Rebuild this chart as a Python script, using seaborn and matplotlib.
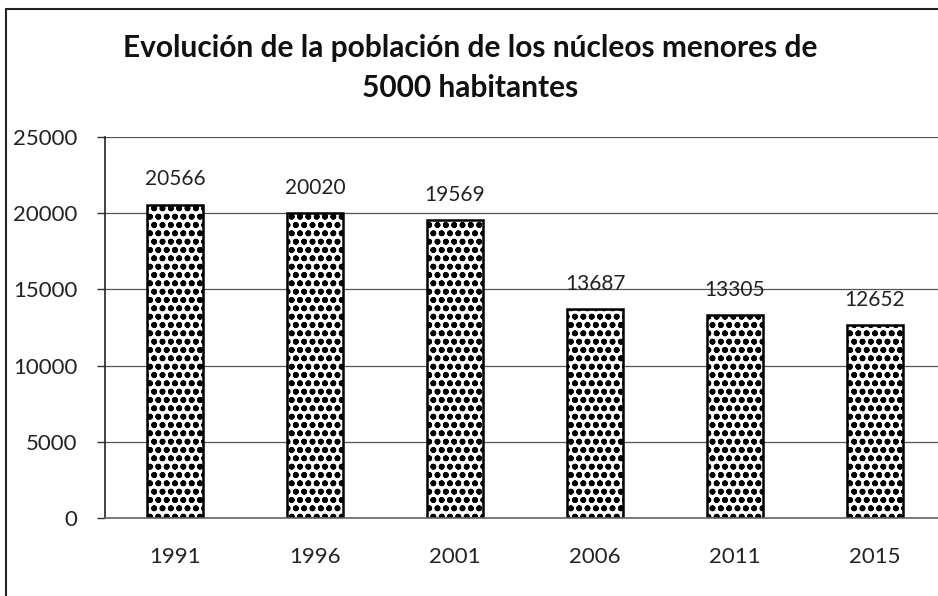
import matplotlib
matplotlib.use("Agg")
import matplotlib.pyplot as plt
import seaborn as sns
import pandas as pd
from matplotlib.lines import Line2D
from matplotlib.ticker import FixedLocator

# Datos
anios = ["1991", "1996", "2001", "2006", "2011", "2015"]
poblacion = [20566, 20020, 19569, 13687, 13305, 12652]

titulo = "Evolución de la población de los núcleos menores de\n5000 habitantes"

sns.set_style("white")
plt.rcParams['font.family'] = ['Lato', 'DejaVu Sans']
plt.rcParams['hatch.linewidth'] = 1.8
plt.rcParams['hatch.color'] = 'black'

df = pd.DataFrame({"Año": anios, "Población": poblacion})

fig = plt.figure(figsize=(9.38, 5.96), dpi=100)
ax = fig.add_axes([0.112, 0.131, 0.8955, 0.639])

sns.barplot(data=df, x="Año", y="Población", color="white", edgecolor="black",
            linewidth=1.8, width=0.4, ax=ax)
for barra in ax.patches:
    barra.set_hatch("oo")

ax.bar_label(ax.containers[0], fontsize=15, padding=11, color="#222222")

ax.set_ylim(0, 25000)
ax.set_xlim(-0.5, len(anios) - 0.5)
ax.set_yticks(range(0, 25001, 5000))
ax.yaxis.grid(True, color="#555555", linewidth=0.9)
ax.set_axisbelow(True)

ax.set_xlabel("")
ax.set_ylabel("")
ax.tick_params(axis="x", length=0, pad=21, labelsize=16, labelcolor="#222222")
ax.xaxis.set_minor_locator(FixedLocator([i - 0.5 for i in range(len(anios) + 1)]))
ax.tick_params(axis="x", which="minor", length=6, width=1, color="#333333", direction="out")
ax.tick_params(axis="y", length=6, width=1, color="#333333", pad=14, labelsize=16,
               labelcolor="#222222", left=True)

for lado in ["top", "right"]:
    ax.spines[lado].set_visible(False)
ax.spines["left"].set_color("#222222")
ax.spines["left"].set_linewidth(1.2)
ax.spines["bottom"].set_color("#666666")
ax.spines["bottom"].set_linewidth(1.2)

fig.text(0.501, 0.886, titulo, ha="center", va="center", fontsize=21.5,
         fontweight="bold", linespacing=1.5, color="#111111")

# marco del gráfico
fig.add_artist(Line2D([0.006, 0.006], [0.0, 0.985], transform=fig.transFigure,
                      color="#222222", linewidth=1.5))
fig.add_artist(Line2D([0.006, 1.0], [0.985, 0.985], transform=fig.transFigure,
                      color="#222222", linewidth=1.5))

fig.savefig("out.png", dpi=100)
